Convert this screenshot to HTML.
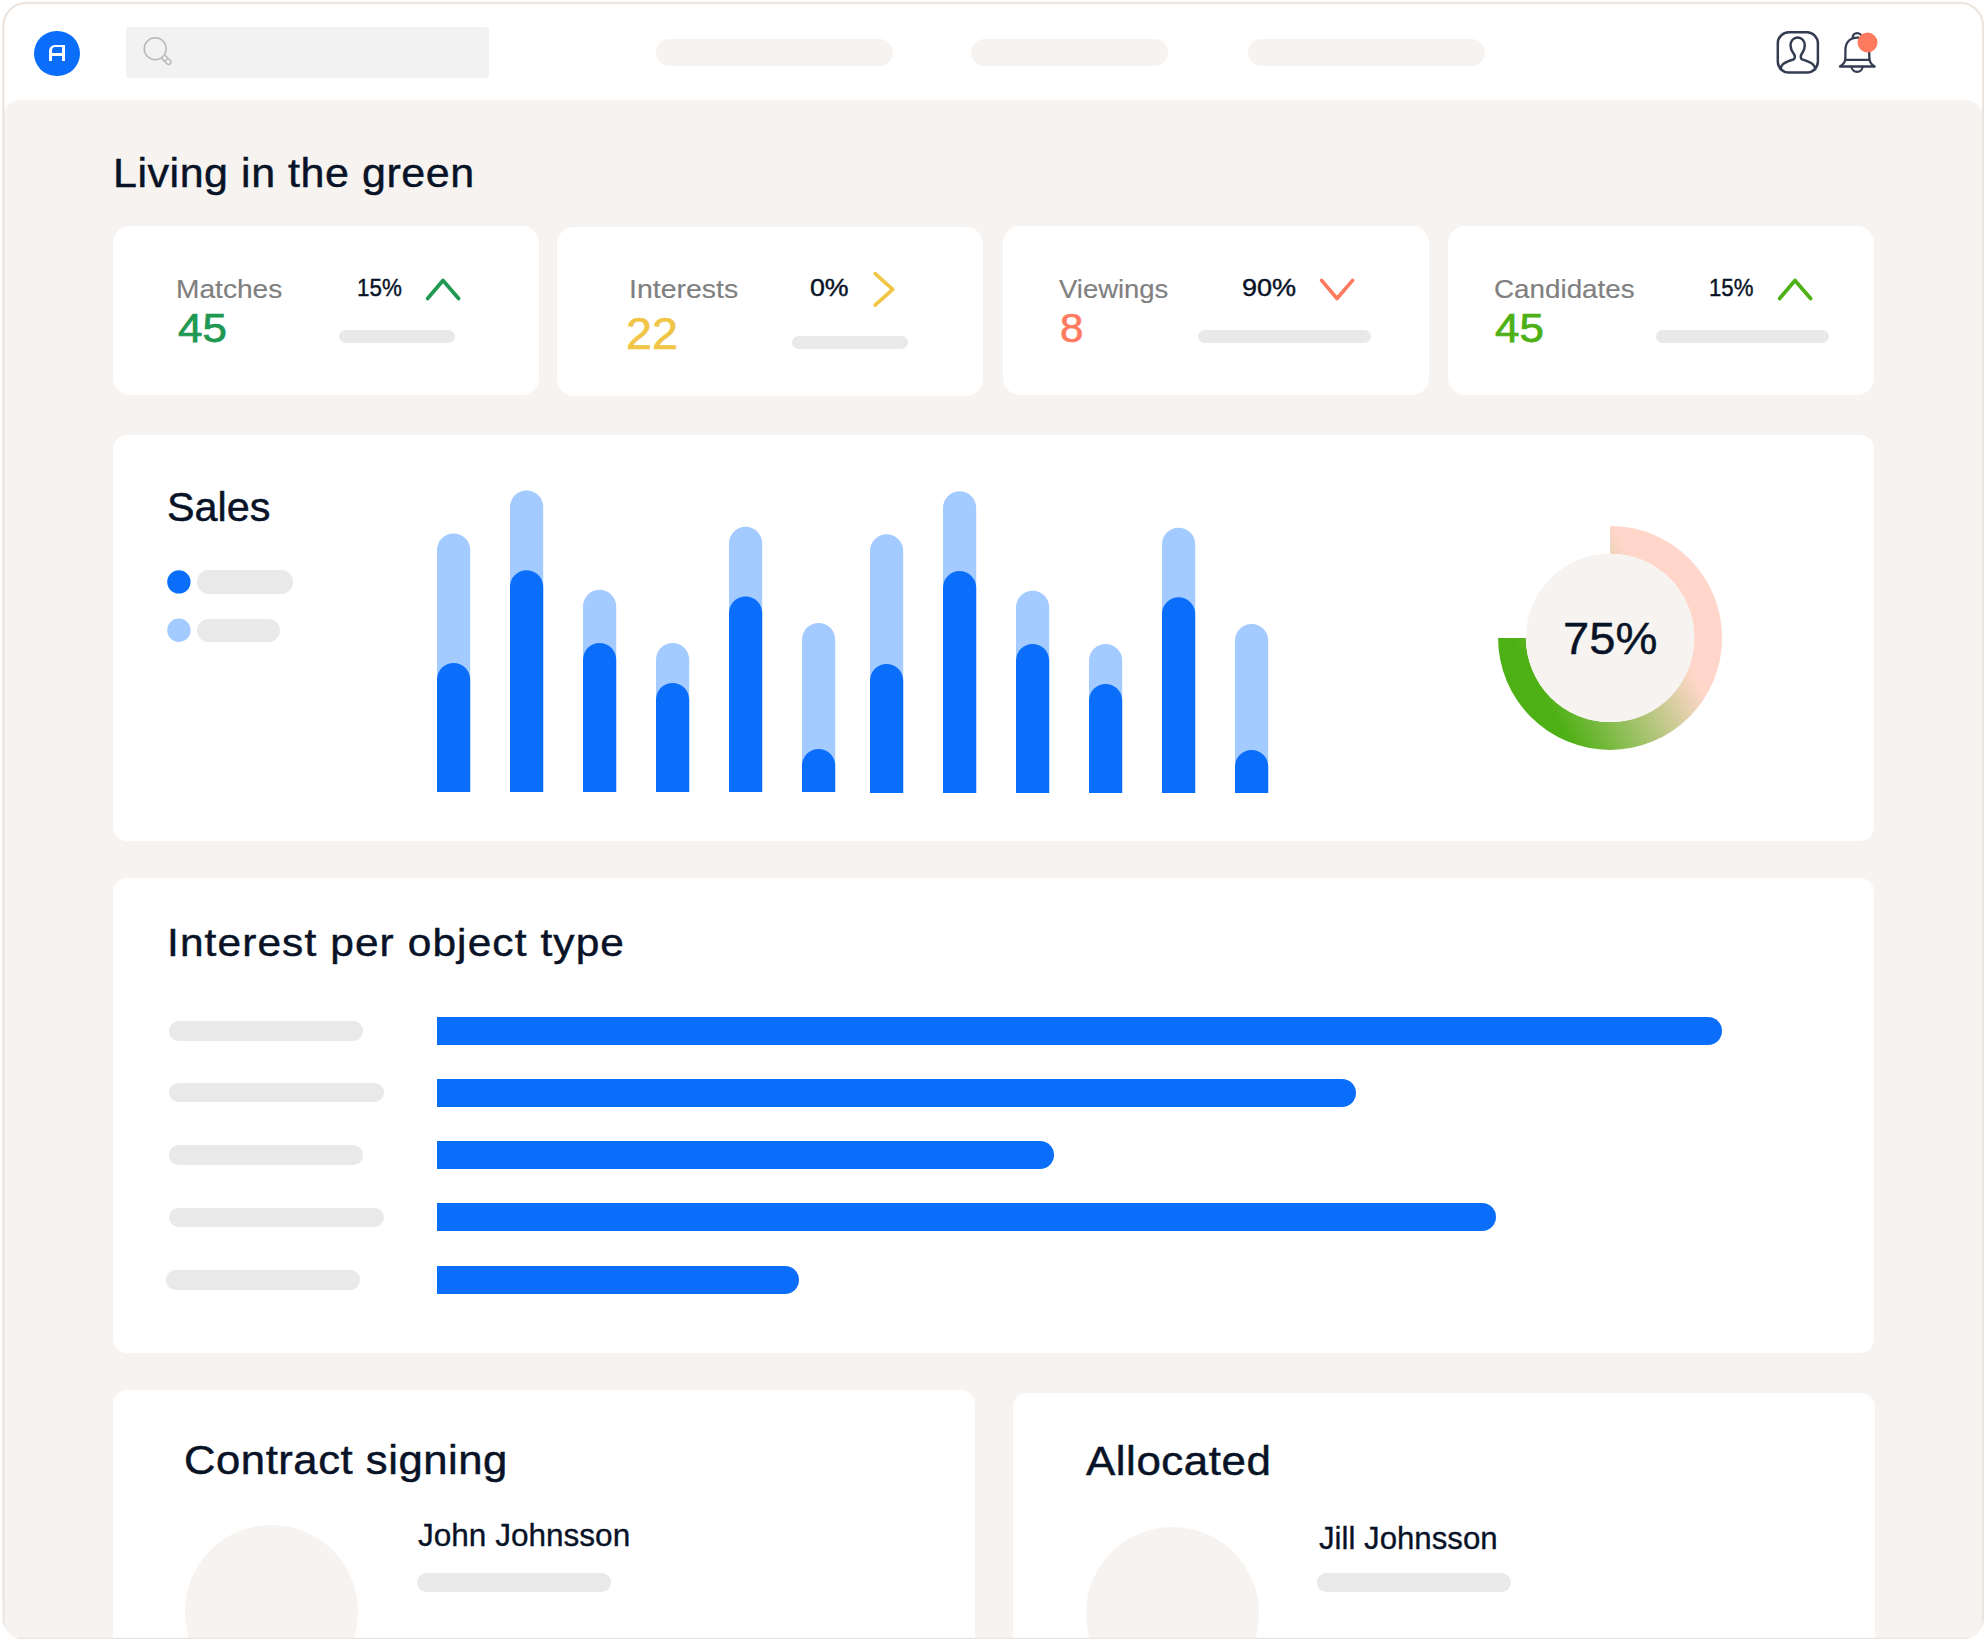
<!DOCTYPE html>
<html lang="en">
<head>
<meta charset="utf-8">
<title>Living in the green</title>
<style>
html,body{margin:0;padding:0;background:#fff;}
body{width:1984px;height:1639px;position:relative;overflow:hidden;font-family:"Liberation Sans",sans-serif;}
.b,.t,svg.i{position:absolute;}
.t{white-space:nowrap;line-height:1;margin:0;padding:0;font-weight:400;transform-origin:0 0;}
.main{position:absolute;left:4px;top:100px;width:1978px;height:1539px;background:#f7f3f0;border-radius:16px 16px 0 0;}
.card{position:absolute;background:#fff;border-radius:14px;}
</style>
</head>
<body>
<header>

<div class="b" style="left:34.4px;top:30.9px;width:45.4px;height:45.4px;border-radius:50%;background:#0a6efb;"></div>
<div class="b" style="left:49.1px;top:44.5px;width:15.8px;height:16px;box-sizing:border-box;border-style:solid;border-color:#fff;border-width:2.6px 3.1px 0 3.3px;border-radius:6px 0 0 0;"></div>
<div class="b" style="left:51px;top:53.3px;width:12px;height:2.5px;background:#fff;"></div>
<div class="b" style="left:126.00px;top:27.40px;width:363.00px;height:50.30px;background:#f2f2f2;border-radius:3px;"></div>
<svg class="i" style="left:140px;top:34px" width="36" height="36" viewBox="140 34 36 36" fill="none" stroke="#b9b9b9" stroke-width="1.55">
<circle cx="155.2" cy="48.75" r="10.95"/>
<g transform="translate(162.95 56.5) rotate(-45)"><path d="M-2.3 0.3 V8 A2.3 2.3 0 0 0 2.3 8 V-0.2 M-2.3 4.7 H2.3"/></g>
</svg>
<div class="b" style="left:655.60px;top:38.60px;width:237.10px;height:27.30px;background:#f7f3f0;border-radius:13.65px;"></div>
<div class="b" style="left:970.70px;top:38.60px;width:197.30px;height:27.30px;background:#f7f3f0;border-radius:13.65px;"></div>
<div class="b" style="left:1247.70px;top:38.60px;width:237.10px;height:27.30px;background:#f7f3f0;border-radius:13.65px;"></div>
<svg class="i" style="left:1770px;top:24px" width="56" height="56" viewBox="1770 24 56 56" fill="none" stroke="#333c50" stroke-width="2.5" stroke-linecap="round" stroke-linejoin="round">
<rect x="1777.8" y="32.3" width="40.1" height="40.3" rx="11"/>
<path d="M1780.7 69.2 C1781 64.5 1784 63 1788 61.3 C1790.5 60.3 1792 59.9 1793.3 59.5 C1795 58.8 1795.2 56.5 1794.3 54.6 C1793.5 53 1790.5 50.5 1790.5 45.5 C1790.5 40.8 1793.5 37.5 1797.6 37.5 C1801.700 37.5 1804.8 40.8 1804.8 45.5 C1804.8 50.5 1802.2 53 1801.3 54.6 C1800.4 56.5 1800.6 58.8 1802.3 59.5 C1803.6 59.9 1805 60.3 1807.6 61.4 C1811.5 63 1814.8 64.5 1815.2 69.2"/>
</svg>
<svg class="i" style="left:1832px;top:24px" width="56" height="56" viewBox="1832 24 56 56" fill="none" stroke="#333c50" stroke-width="2.3" stroke-linecap="round" stroke-linejoin="round">
<path d="M1852.7 37.6 C1852.7 35 1854.6 33.1 1857.1 33.1 C1859.600 33.1 1861.5 35 1861.5 37"/>
<path d="M1839.9 66.5 C1842.8 64.8 1844.8 62.500 1845.2 59.9 C1845.5 57 1845.4 53 1845.4 50 C1845.4 42 1850.5 37.6 1857.3 37.6 C1864.100 37.6 1869.2 42 1869.2 50 C1869.2 53 1869.2 57 1869.600 59.9 C1870 62.500 1871.8 64.8 1874.7 66.5 Z"/>
<path d="M1845.4 59.9 H1869.4"/>
<path d="M1851.6 67 C1851.9 69.8 1854.2 71.8 1857.1 71.8 C1860 71.8 1862.300 69.8 1862.600 67"/>
<circle cx="1867.5" cy="42.5" r="10" fill="#ff7b5f" stroke="none"/>
</svg>
</header>
<main>
<div class="main"></div>

<h1 class="t" style="left:112.78px;top:152.74px;font-size:40px;color:#091327;letter-spacing:0.5px;-webkit-text-stroke:0.45px #091327;transform:scaleX(1.0749);">Living in the green</h1>
<section>
<div class="b" style="left:112.70px;top:226.30px;width:426.40px;height:169.20px;background:#fff;border-radius:17px;"></div>
<div class="t" style="left:176.15px;top:276.42px;font-size:26.2px;color:#808080;-webkit-text-stroke:0.15px #808080;transform:scaleX(1.0740);">Matches</div>
<div class="t" style="left:178.00px;top:307.69px;font-size:41px;color:#209852;-webkit-text-stroke:0.75px #209852;transform:scaleX(1.0705);">45</div>
<div class="t" style="left:357.03px;top:276.53px;font-size:23px;color:#091327;-webkit-text-stroke:0.4px #091327;transform:scaleX(0.9727);">15%</div>
<svg class="i" style="left:421.7px;top:272px" width="42" height="34" viewBox="421.7 272 42 34" fill="none" stroke="#209852" stroke-width="3.7" stroke-linecap="round" stroke-linejoin="round"><path d="M427.3 298.5 L442.7 280.5 L458.3 298.5"/></svg>
<div class="b" style="left:339.00px;top:329.80px;width:116.20px;height:13.10px;background:#e9e9e9;border-radius:6.55px;"></div>
</section>
<section>
<div class="b" style="left:557.30px;top:227.20px;width:425.90px;height:168.80px;background:#fff;border-radius:17px;"></div>
<div class="t" style="left:629.03px;top:276.42px;font-size:26.2px;color:#808080;-webkit-text-stroke:0.15px #808080;transform:scaleX(1.0866);">Interests</div>
<div class="t" style="left:626.28px;top:312.15px;font-size:44px;color:#f1c646;-webkit-text-stroke:0.7px #f1c646;transform:scaleX(1.0622);">22</div>
<div class="t" style="left:809.64px;top:276.53px;font-size:23px;color:#091327;-webkit-text-stroke:0.4px #091327;transform:scaleX(1.1625);">0%</div>
<svg class="i" style="left:868.5px;top:268px" width="32" height="42" viewBox="868.5 268 32 42" fill="none" stroke="#f1c646" stroke-width="3.7" stroke-linecap="round" stroke-linejoin="round"><path d="M874.6 273.7 L892.2 289.4 L874.6 305.1"/></svg>
<div class="b" style="left:792.20px;top:336.10px;width:116.20px;height:13.20px;background:#e9e9e9;border-radius:6.6px;"></div>
</section>
<section>
<div class="b" style="left:1002.70px;top:226.30px;width:426.40px;height:169.20px;background:#fff;border-radius:17px;"></div>
<div class="t" style="left:1059.00px;top:276.42px;font-size:26.2px;color:#808080;-webkit-text-stroke:0.15px #808080;transform:scaleX(1.0476);">Viewings</div>
<div class="t" style="left:1059.77px;top:307.69px;font-size:41px;color:#ff7b5f;-webkit-text-stroke:0.65px #ff7b5f;transform:scaleX(1.0250);">8</div>
<div class="t" style="left:1241.53px;top:276.53px;font-size:23px;color:#091327;-webkit-text-stroke:0.4px #091327;transform:scaleX(1.1750);">90%</div>
<svg class="i" style="left:1315.8px;top:272px" width="42" height="34" viewBox="1315.8 272 42 34" fill="none" stroke="#ff7b5f" stroke-width="3.7" stroke-linecap="round" stroke-linejoin="round"><path d="M1321.4 280.4 L1336.8 298.5 L1352.4 280.4"/></svg>
<div class="b" style="left:1197.80px;top:329.80px;width:173.30px;height:13.10px;background:#e9e9e9;border-radius:6.55px;"></div>
</section>
<section>
<div class="b" style="left:1448.20px;top:226.30px;width:425.90px;height:169.20px;background:#fff;border-radius:17px;"></div>
<div class="t" style="left:1493.54px;top:276.42px;font-size:26.2px;color:#808080;-webkit-text-stroke:0.15px #808080;transform:scaleX(1.0618);">Candidates</div>
<div class="t" style="left:1494.70px;top:307.69px;font-size:41px;color:#4db014;-webkit-text-stroke:0.75px #4db014;transform:scaleX(1.0705);">45</div>
<div class="t" style="left:1709.04px;top:276.53px;font-size:23px;color:#091327;-webkit-text-stroke:0.4px #091327;transform:scaleX(0.9636);">15%</div>
<svg class="i" style="left:1774px;top:272px" width="42" height="34" viewBox="1774 272 42 34" fill="none" stroke="#4db014" stroke-width="3.7" stroke-linecap="round" stroke-linejoin="round"><path d="M1779.6 298.5 L1795.0 280.5 L1810.6 298.5"/></svg>
<div class="b" style="left:1655.90px;top:329.80px;width:173.30px;height:13.10px;background:#e9e9e9;border-radius:6.55px;"></div>
</section>
<section>
<div class="b" style="left:112.70px;top:435.00px;width:1761.50px;height:405.80px;background:#fff;border-radius:14px;"></div>
<h2 class="t" style="left:167.01px;top:485.67px;font-size:41.5px;color:#091327;-webkit-text-stroke:0.5px #091327;transform:scaleX(0.9960);">Sales</h2>
<svg class="i" style="left:160px;top:564px" width="40" height="84" viewBox="160 564 40 84"><circle cx="178.9" cy="581.9" r="11.7" fill="#0a6efb"/><circle cx="178.9" cy="630.2" r="11.7" fill="#a4cbff"/></svg>
<div class="b" style="left:197.00px;top:570.40px;width:96.00px;height:23.30px;background:#e9e9e9;border-radius:11.65px;"></div>
<div class="b" style="left:197.00px;top:618.70px;width:82.70px;height:23.30px;background:#e9e9e9;border-radius:11.65px;"></div>
<svg class="i" style="left:420px;top:470px" width="880" height="340" viewBox="420 470 880 340">
<path fill="#a4cbff" d="M437 792 V550.0 A16.6 16.6 0 0 1 470.2 550.0 V792 Z"/>
<path fill="#0a6efb" d="M437 792 V679.6 A16.6 16.6 0 0 1 470.2 679.6 V792 Z"/>
<path fill="#a4cbff" d="M510 792 V507.0 A16.6 16.6 0 0 1 543.2 507.0 V792 Z"/>
<path fill="#0a6efb" d="M510 792 V586.8 A16.6 16.6 0 0 1 543.2 586.8 V792 Z"/>
<path fill="#a4cbff" d="M583 792 V606.4 A16.6 16.6 0 0 1 616.2 606.4 V792 Z"/>
<path fill="#0a6efb" d="M583 792 V659.6 A16.6 16.6 0 0 1 616.2 659.6 V792 Z"/>
<path fill="#a4cbff" d="M656 792 V659.6 A16.6 16.6 0 0 1 689.2 659.6 V792 Z"/>
<path fill="#0a6efb" d="M656 792 V699.6 A16.6 16.6 0 0 1 689.2 699.6 V792 Z"/>
<path fill="#a4cbff" d="M729 792 V543.4 A16.6 16.6 0 0 1 762.2 543.4 V792 Z"/>
<path fill="#0a6efb" d="M729 792 V613.0 A16.6 16.6 0 0 1 762.2 613.0 V792 Z"/>
<path fill="#a4cbff" d="M802 792 V639.6 A16.6 16.6 0 0 1 835.2 639.6 V792 Z"/>
<path fill="#0a6efb" d="M802 792 V765.6 A16.6 16.6 0 0 1 835.2 765.6 V792 Z"/>
<path fill="#a4cbff" d="M870 793 V550.9 A16.6 16.6 0 0 1 903.2 550.9 V793 Z"/>
<path fill="#0a6efb" d="M870 793 V680.5 A16.6 16.6 0 0 1 903.2 680.5 V793 Z"/>
<path fill="#a4cbff" d="M943 793 V507.9 A16.6 16.6 0 0 1 976.2 507.9 V793 Z"/>
<path fill="#0a6efb" d="M943 793 V587.7 A16.6 16.6 0 0 1 976.2 587.7 V793 Z"/>
<path fill="#a4cbff" d="M1016 793 V607.3 A16.6 16.6 0 0 1 1049.2 607.3 V793 Z"/>
<path fill="#0a6efb" d="M1016 793 V660.5 A16.6 16.6 0 0 1 1049.2 660.5 V793 Z"/>
<path fill="#a4cbff" d="M1089 793 V660.5 A16.6 16.6 0 0 1 1122.2 660.5 V793 Z"/>
<path fill="#0a6efb" d="M1089 793 V700.5 A16.6 16.6 0 0 1 1122.2 700.5 V793 Z"/>
<path fill="#a4cbff" d="M1162 793 V544.3 A16.6 16.6 0 0 1 1195.2 544.3 V793 Z"/>
<path fill="#0a6efb" d="M1162 793 V613.9 A16.6 16.6 0 0 1 1195.2 613.9 V793 Z"/>
<path fill="#a4cbff" d="M1235 793 V640.5 A16.6 16.6 0 0 1 1268.2 640.5 V793 Z"/>
<path fill="#0a6efb" d="M1235 793 V766.5 A16.6 16.6 0 0 1 1268.2 766.5 V793 Z"/>
</svg>
<svg class="i" style="left:1480px;top:510px" width="260" height="260" viewBox="1480 510 260 260">
<defs><linearGradient id="dg" gradientUnits="userSpaceOnUse" x1="1534.5" y1="679.2" x2="1658.3" y2="611.7"><stop offset="0" stop-color="#4db014"/><stop offset="1" stop-color="#ffd6c9"/></linearGradient></defs>
<path fill="url(#dg)" d="M1610.1 525.9 A112 112 0 1 1 1498.1 637.9 H1525.8999999999999 A84.2 84.2 0 1 0 1610.1 553.6999999999999 Z"/>
<circle cx="1610.1" cy="637.9" r="84.2" fill="#f7f3f0"/>
</svg>
<div class="t" style="left:1562.60px;top:616.31px;font-size:45px;color:#091327;-webkit-text-stroke:0.45px #091327;transform:scaleX(1.0483);">75%</div>
</section>
<section>
<div class="b" style="left:112.70px;top:878.10px;width:1761.50px;height:475.00px;background:#fff;border-radius:14px;"></div>
<h2 class="t" style="left:167.39px;top:923.91px;font-size:38.5px;color:#091327;letter-spacing:1.0px;-webkit-text-stroke:0.45px #091327;transform:scaleX(1.1020);">Interest per object type</h2>
<div class="b" style="left:169.00px;top:1021.00px;width:193.70px;height:19.50px;background:#e9e9e9;border-radius:9.75px;"></div>
<div class="b" style="left:437.00px;top:1017.00px;width:1284.70px;height:28.00px;background:#0a6efb;border-radius:0 14px 14px 0;"></div>
<div class="b" style="left:169.00px;top:1082.70px;width:214.50px;height:19.50px;background:#e9e9e9;border-radius:9.75px;"></div>
<div class="b" style="left:437.00px;top:1079.10px;width:918.70px;height:28.00px;background:#0a6efb;border-radius:0 14px 14px 0;"></div>
<div class="b" style="left:169.00px;top:1145.30px;width:193.70px;height:19.50px;background:#e9e9e9;border-radius:9.75px;"></div>
<div class="b" style="left:437.00px;top:1141.30px;width:617.00px;height:28.00px;background:#0a6efb;border-radius:0 14px 14px 0;"></div>
<div class="b" style="left:169.00px;top:1207.50px;width:214.50px;height:19.50px;background:#e9e9e9;border-radius:9.75px;"></div>
<div class="b" style="left:437.00px;top:1203.40px;width:1059.30px;height:28.00px;background:#0a6efb;border-radius:0 14px 14px 0;"></div>
<div class="b" style="left:166.20px;top:1270.00px;width:193.80px;height:19.50px;background:#e9e9e9;border-radius:9.75px;"></div>
<div class="b" style="left:437.00px;top:1265.60px;width:361.60px;height:28.00px;background:#0a6efb;border-radius:0 14px 14px 0;"></div>
</section>
<section>
<div class="b" style="left:112.70px;top:1390.40px;width:862.80px;height:247.40px;background:#fff;border-radius:14px 14px 0 0;"></div>
<h2 class="t" style="left:184.07px;top:1440.09px;font-size:41px;color:#091327;letter-spacing:0.5px;-webkit-text-stroke:0.5px #091327;transform:scaleX(1.0642);">Contract signing</h2>
<div class="b" style="left:185.30px;top:1525.10px;width:172.80px;height:172.80px;background:#f7f3f0;border-radius:50%;"></div>
<div class="t" style="left:417.50px;top:1520.24px;font-size:31.5px;color:#091327;-webkit-text-stroke:0.35px #091327;transform:scaleX(1.0014);">John Johnsson</div>
<div class="b" style="left:416.60px;top:1572.80px;width:194.20px;height:19.50px;background:#e9e9e9;border-radius:9.75px;"></div>
</section>
<section>
<div class="b" style="left:1012.70px;top:1392.70px;width:862.80px;height:245.10px;background:#fff;border-radius:14px 14px 0 0;"></div>
<h2 class="t" style="left:1086.20px;top:1441.39px;font-size:41px;color:#091327;letter-spacing:0.5px;-webkit-text-stroke:0.5px #091327;transform:scaleX(1.0706);">Allocated</h2>
<div class="b" style="left:1086.20px;top:1527.40px;width:172.80px;height:172.80px;background:#f7f3f0;border-radius:50%;"></div>
<div class="t" style="left:1318.50px;top:1522.94px;font-size:31.5px;color:#091327;-webkit-text-stroke:0.35px #091327;transform:scaleX(0.9905);">Jill Johnsson</div>
<div class="b" style="left:1317.10px;top:1572.80px;width:194.10px;height:19.50px;background:#e9e9e9;border-radius:9.75px;"></div>
</section>
</main>
<svg class="i" style="left:0;top:0;pointer-events:none" width="1984" height="1639" viewBox="0 0 1984 1639">
<path d="M3.4 1645 V25.9 A23 23 0 0 1 26.4 2.9 H1960 A23 23 0 0 1 1983 25.9 V1645" fill="none" stroke="#ece4de" stroke-width="2.2"/>
<path d="M-5 1638.9 H1990" fill="none" stroke="#ece4de" stroke-width="2.2"/>
<path d="M2.3 1617.5 A22 22 0 0 0 24.3 1639.5 H0 V1617.5 Z" fill="#fff"/>
<path d="M1984.1 1617.5 A22 22 0 0 1 1962.1 1639.5 H1985 V1617.5 Z" fill="#fff"/>
<rect x="0" y="1600" width="2.3" height="40" fill="#fff"/>
</svg>
</body>
</html>
